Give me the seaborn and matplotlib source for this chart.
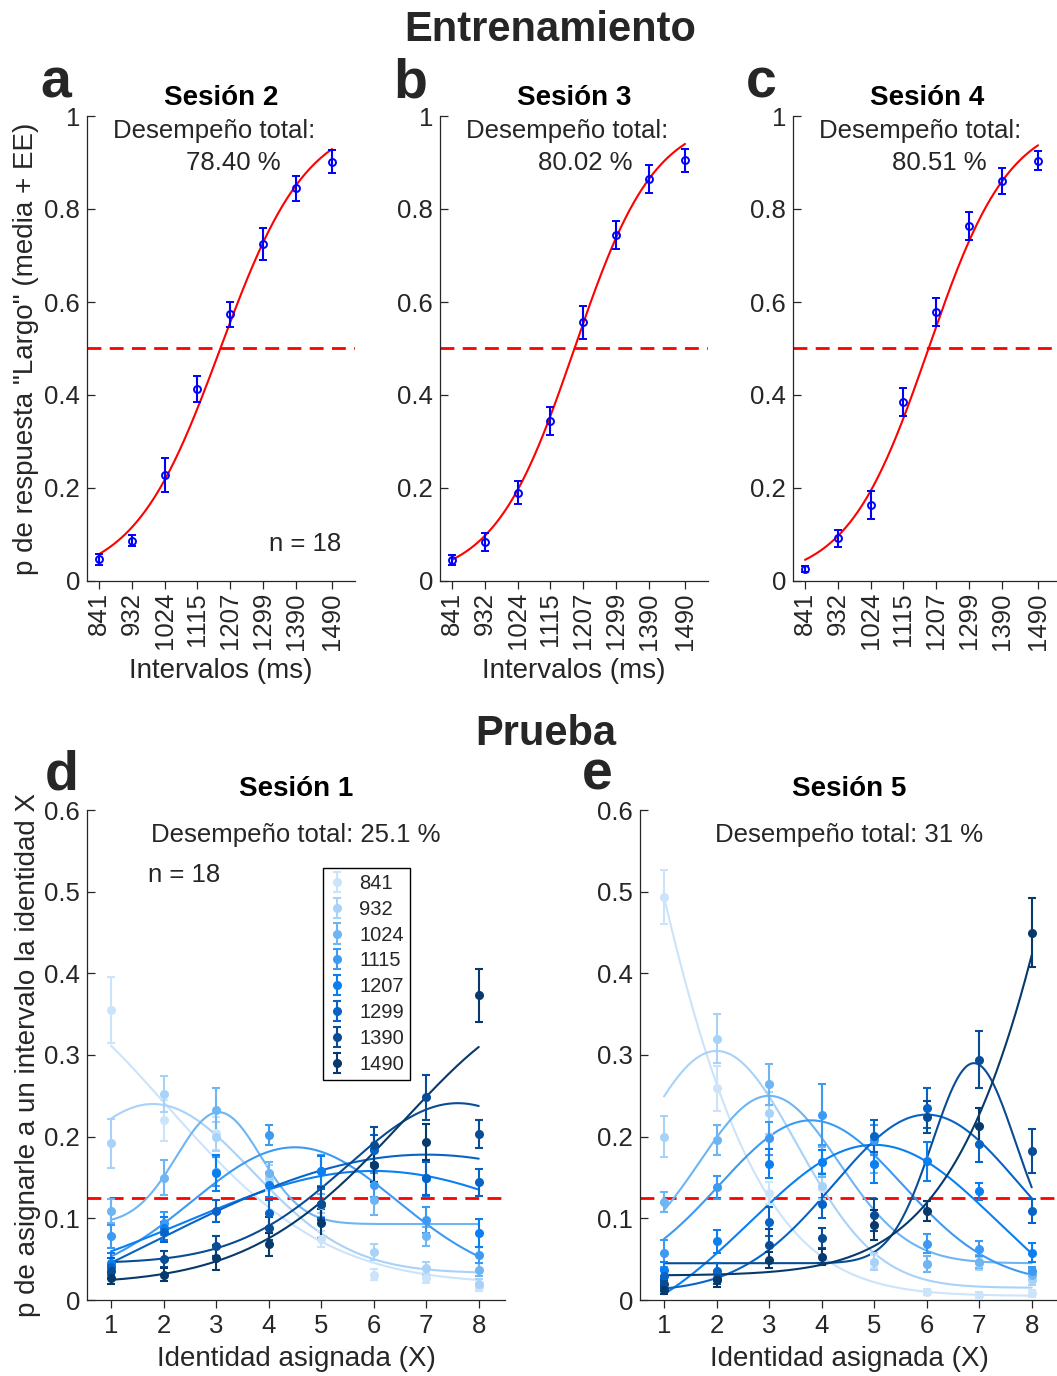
import numpy as np
import pandas as pd
import matplotlib
matplotlib.use("Agg")
import matplotlib.pyplot as plt
import seaborn as sns

# ---------------------------------------------------------------- data
intervals = [841, 932, 1024, 1115, 1207, 1299, 1390, 1490]
identities = [1, 2, 3, 4, 5, 6, 7, 8]

# Training: proportion of "Largo" responses per interval (mean, SE)
train_titles = ["Sesión 2", "Sesión 3", "Sesión 4"]
train_letters = ["a", "b", "c"]
train_perf = ["78.40 %", "80.02 %", "80.51 %"]
train_mean_s2 = [0.047, 0.087, 0.228, 0.413, 0.574, 0.725, 0.845, 0.902]
train_mean_s3 = [0.045, 0.084, 0.190, 0.345, 0.556, 0.744, 0.864, 0.905]
train_mean_s4 = [0.026, 0.092, 0.163, 0.385, 0.579, 0.764, 0.860, 0.904]
train_se_s2 = [0.012, 0.012, 0.037, 0.027, 0.027, 0.035, 0.027, 0.025]
train_se_s3 = [0.010, 0.020, 0.025, 0.030, 0.035, 0.030, 0.030, 0.025]
train_se_s4 = [0.006, 0.018, 0.030, 0.030, 0.030, 0.030, 0.028, 0.020]
# logistic fit parameters (threshold, slope scale) in ms
train_fit_mu = [1179, 1182, 1185]
train_fit_scale = [121, 112, 113]

# Test: probability of assigning interval to identity X (rows = intervals)
test_titles = ["Sesión 1", "Sesión 5"]
test_letters = ["d", "e"]
test_perf = ["Desempeño total: 25.1 %", "Desempeño total: 31 %"]

test_mean_s1 = [
    [0.355, 0.220, 0.204, 0.145, 0.075, 0.031, 0.027, 0.016],
    [0.192, 0.252, 0.200, 0.150, 0.118, 0.059, 0.039, 0.020],
    [0.109, 0.150, 0.233, 0.155, 0.116, 0.122, 0.078, 0.037],
    [0.078, 0.094, 0.157, 0.202, 0.158, 0.141, 0.098, 0.055],
    [0.045, 0.088, 0.155, 0.141, 0.158, 0.165, 0.149, 0.082],
    [0.041, 0.083, 0.109, 0.106, 0.118, 0.184, 0.149, 0.144],
    [0.035, 0.050, 0.066, 0.088, 0.118, 0.190, 0.248, 0.203],
    [0.027, 0.031, 0.052, 0.068, 0.094, 0.165, 0.194, 0.373],
]
test_se_s1 = [
    [0.040, 0.025, 0.020, 0.012, 0.010, 0.007, 0.006, 0.005],
    [0.030, 0.022, 0.018, 0.015, 0.012, 0.010, 0.008, 0.006],
    [0.015, 0.022, 0.027, 0.014, 0.014, 0.018, 0.012, 0.008],
    [0.014, 0.014, 0.018, 0.012, 0.020, 0.015, 0.016, 0.010],
    [0.012, 0.014, 0.022, 0.015, 0.018, 0.020, 0.022, 0.017],
    [0.010, 0.012, 0.014, 0.016, 0.018, 0.018, 0.020, 0.017],
    [0.008, 0.010, 0.012, 0.014, 0.020, 0.022, 0.028, 0.017],
    [0.007, 0.008, 0.015, 0.014, 0.018, 0.020, 0.022, 0.032],
]
test_mean_s5 = [
    [0.494, 0.259, 0.131, 0.137, 0.047, 0.010, 0.006, 0.008],
    [0.200, 0.320, 0.229, 0.140, 0.047, 0.044, 0.045, 0.024],
    [0.120, 0.196, 0.264, 0.169, 0.167, 0.044, 0.047, 0.031],
    [0.057, 0.138, 0.198, 0.227, 0.196, 0.069, 0.063, 0.035],
    [0.037, 0.072, 0.167, 0.169, 0.167, 0.170, 0.133, 0.058],
    [0.030, 0.035, 0.096, 0.118, 0.201, 0.235, 0.191, 0.109],
    [0.020, 0.027, 0.067, 0.076, 0.104, 0.224, 0.294, 0.183],
    [0.012, 0.024, 0.049, 0.053, 0.092, 0.109, 0.213, 0.450],
]
test_se_s5 = [
    [0.033, 0.027, 0.014, 0.015, 0.008, 0.004, 0.004, 0.004],
    [0.025, 0.030, 0.026, 0.016, 0.010, 0.010, 0.008, 0.006],
    [0.012, 0.018, 0.025, 0.018, 0.012, 0.010, 0.008, 0.007],
    [0.017, 0.014, 0.020, 0.037, 0.018, 0.012, 0.009, 0.006],
    [0.010, 0.014, 0.018, 0.015, 0.024, 0.024, 0.010, 0.012],
    [0.008, 0.010, 0.018, 0.018, 0.020, 0.024, 0.022, 0.015],
    [0.005, 0.008, 0.020, 0.012, 0.020, 0.020, 0.035, 0.027],
    [0.005, 0.008, 0.010, 0.010, 0.018, 0.012, 0.022, 0.042],
]
# gaussian-plus-baseline fit parameters per interval: amplitude, centre, width, baseline
fit_s1_amp = [0.362, 0.207, 0.137, 0.167, 0.158, 0.278, 0.196, 0.331]
fit_s1_cen = [-1.0, 1.8, 3.05, 4.5, 6.0, 7.0, 7.6, 9.5]
fit_s1_wid = [3.04, 1.88, 0.80, 1.95, 3.58, 5.27, 2.11, 2.91]
fit_s1_base = [0.020, 0.033, 0.093, 0.020, 0.000, -0.100, 0.045, 0.020]
fit_s5_amp = [1.50, 0.290, 0.205, 0.200, 0.240, 0.217, 0.245, 2.65]
fit_s5_cen = [-3.0, 2.0, 3.0, 3.8, 5.0, 6.0, 6.9, 14.0]
fit_s5_wid = [2.67, 1.53, 1.32, 1.74, 2.36, 1.77, 0.79, 3.07]
fit_s5_base = [0.005, 0.015, 0.045, 0.020, -0.050, 0.010, 0.045, 0.030]

interval_colors = ["#cce4fb", "#a8d2f8", "#6db5f3", "#3d9af2",
                   "#0a7ff2", "#0863c6", "#084c95", "#073a6b"]

# ---------------------------------------------------------------- style
sns.set_theme(style="ticks")
plt.rcParams["font.family"] = ["Liberation Sans", "DejaVu Sans"]
AX_COLOR = "#262626"
plt.rcParams.update({
    "axes.edgecolor": AX_COLOR, "axes.linewidth": 0.9,
    "xtick.color": AX_COLOR, "ytick.color": AX_COLOR,
    "xtick.labelcolor": AX_COLOR, "ytick.labelcolor": AX_COLOR,
    "axes.labelcolor": AX_COLOR,
})

W, H = 1057, 1376
fig = plt.figure(figsize=(W / 100, H / 100), dpi=100)


def rect(left, top, right, bottom):
    return [left / W, 1 - bottom / H, (right - left) / W, (bottom - top) / H]


def ftext(px, py, s, **kw):
    fig.text(px / W, 1 - py / H, s, **kw)


def style_axes(ax):
    sns.despine(ax=ax)
    ax.tick_params(axis="y", direction="in", length=6, width=0.9, labelsize=18.5, pad=5)
    ax.tick_params(axis="x", direction="out", length=6, width=0.9, labelsize=18.5)
    ax.yaxis.set_major_formatter(matplotlib.ticker.FuncFormatter(lambda v, p: f"{v:g}"))


# ---------------------------------------------------------------- training panels
train_means = [train_mean_s2, train_mean_s3, train_mean_s4]
train_ses = [train_se_s2, train_se_s3, train_se_s4]
train_lefts = [87, 440, 793]
perf_centers = [(214, 233), (567, 585), (920, 939)]
xgrid_ms = np.linspace(intervals[0], intervals[-1], 300)

for k in range(3):
    L = train_lefts[k]
    ax = fig.add_axes(rect(L, 116, L + 268, 581))
    fit = 1.0 / (1.0 + np.exp(-(xgrid_ms - train_fit_mu[k]) / train_fit_scale[k]))
    sns.lineplot(x=xgrid_ms, y=fit, ax=ax, color="red", lw=1.5, zorder=2)
    ax.axhline(0.5, color="red", lw=2, dashes=(5, 3), zorder=1)
    ax.errorbar(intervals, train_means[k], yerr=train_ses[k], fmt="o", color="blue",
                mfc="none", ms=5, mew=1.4, elinewidth=1.5, capsize=3, capthick=1.5, zorder=3)
    ax.set_xlim(807.6, 1554)
    ax.set_ylim(0, 1)
    ax.set_xticks(intervals)
    ax.set_xticklabels([str(v) for v in intervals], rotation=90)
    ax.set_yticks([0, 0.2, 0.4, 0.6, 0.8, 1.0])
    style_axes(ax)
    ax.tick_params(axis="x", pad=2)
    ax.set_title(train_titles[k], fontsize=20, fontweight="bold", color="black", pad=8)
    ftext(perf_centers[k][0], 131, "Desempeño total:", fontsize=18.5, ha="center", va="center")
    ftext(perf_centers[k][1], 163, train_perf[k], fontsize=18.5, ha="center", va="center")
    if k < 2:
        ax.set_xlabel("Intervalos (ms)", fontsize=20, labelpad=6)
    else:
        ax.set_xlabel("")
    if k == 0:
        ax.set_ylabel('p de respuesta "Largo" (media + EE)', fontsize=20, labelpad=4)
        ftext(341, 544, "n = 18", fontsize=18.5, ha="right", va="center")
    else:
        ax.set_ylabel("")

for letter, (px, py) in zip(train_letters, [(56, 84), (410, 84), (761, 84)]):
    ftext(px, py, letter, fontsize=40, fontweight="bold", ha="center", va="center")

ftext(550, 30, "Entrenamiento", fontsize=30, fontweight="bold", ha="center", va="center")
ftext(546, 734, "Prueba", fontsize=30, fontweight="bold", ha="center", va="center")

# ---------------------------------------------------------------- test panels
test_means = [test_mean_s1, test_mean_s5]
test_ses = [test_se_s1, test_se_s5]
fit_params = [(fit_s1_amp, fit_s1_cen, fit_s1_wid, fit_s1_base),
              (fit_s5_amp, fit_s5_cen, fit_s5_wid, fit_s5_base)]
test_lefts = [87, 640]
xgrid_id = np.linspace(1, 8, 300)
labels = [str(v) for v in intervals]
palette = dict(zip(labels, interval_colors))

for k in range(2):
    L = test_lefts[k]
    ax = fig.add_axes(rect(L, 810, L + 418, 1300))
    amp, cen, wid, base = fit_params[k]
    rows = []
    for i, lab in enumerate(labels):
        curve = base[i] + amp[i] * np.exp(-(xgrid_id - cen[i]) ** 2 / (2 * wid[i] ** 2))
        rows.append(pd.DataFrame({"x": xgrid_id, "p": curve, "intervalo": lab}))
    fits = pd.concat(rows, ignore_index=True)
    sns.lineplot(data=fits, x="x", y="p", hue="intervalo", hue_order=labels,
                 palette=palette, lw=1.5, legend=False, ax=ax, zorder=2)
    ax.axhline(0.125, color="red", lw=2, dashes=(5, 3), zorder=1)
    handles = []
    for i, lab in enumerate(labels):
        h = ax.errorbar(identities, test_means[k][i], yerr=test_ses[k][i], fmt="o",
                        color=interval_colors[i], ms=5.5, elinewidth=1.5, capsize=3,
                        capthick=1.5, label=lab, zorder=3)
        handles.append(h)
    ax.set_xlim(0.543, 8.5)
    ax.set_ylim(0, 0.6)
    ax.set_xticks(identities)
    ax.set_yticks([0, 0.1, 0.2, 0.3, 0.4, 0.5, 0.6])
    style_axes(ax)
    ax.tick_params(axis="x", pad=4)
    ax.set_title(test_titles[k], fontsize=20, fontweight="bold", color="black", pad=10)
    ax.set_xlabel("Identidad asignada (X)", fontsize=20, labelpad=6)
    ftext(L + 209, 835, test_perf[k], fontsize=18.5, ha="center", va="center")
    if k == 0:
        ax.set_ylabel("p de asignarle a un intervalo la identidad X", fontsize=20, labelpad=2)
        ftext(148, 875, "n = 18", fontsize=18.5, ha="left", va="center")
        leg = ax.legend(handles, labels, loc="upper left", bbox_to_anchor=(0.565, 0.882),
                        borderaxespad=0, frameon=True, fancybox=False, framealpha=1,
                        edgecolor="black", fontsize=14.5, handlelength=0.8,
                        handletextpad=0.7, labelspacing=0.34, borderpad=0.3)
        leg.get_frame().set_linewidth(1.0)
    else:
        ax.set_ylabel("")

for letter, (px, py) in zip(test_letters, [(62, 776), (597, 776)]):
    ftext(px, py, letter, fontsize=40, fontweight="bold", ha="center", va="center")

fig.savefig("out.png", dpi=100)
